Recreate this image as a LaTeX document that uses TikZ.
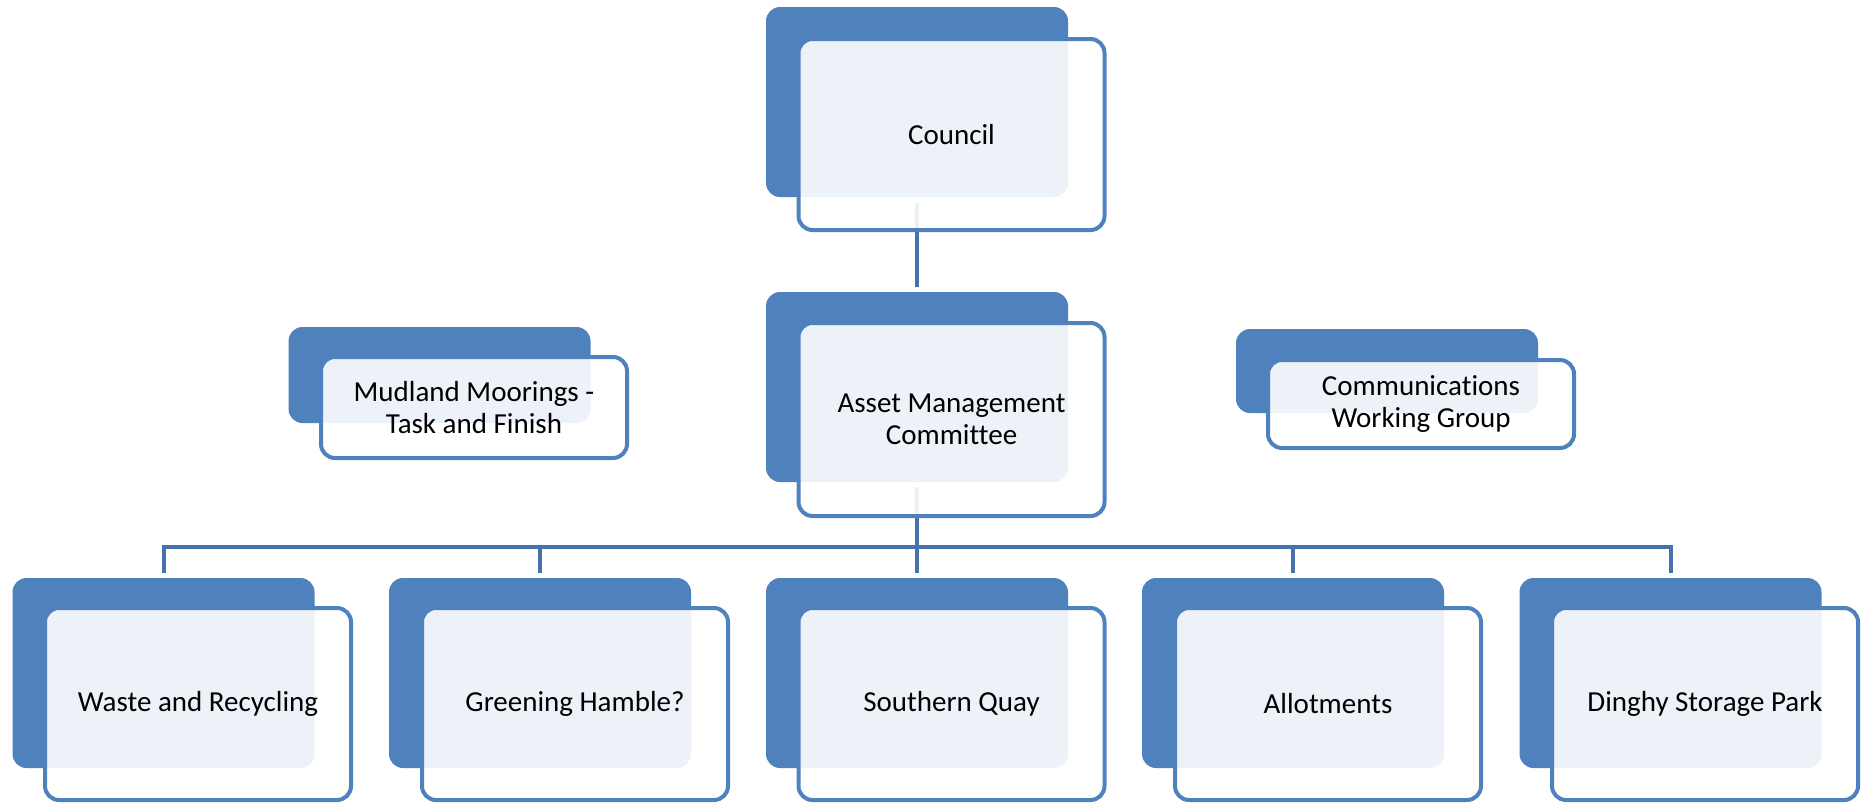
\documentclass[tikz,border=0pt]{standalone}
\usepackage{fontspec}
\setmainfont[Ligatures=CommonOff]{Carlito}
\definecolor{blueA}{HTML}{4F81BD}
\definecolor{linkc}{HTML}{4672AC}
\begin{document}
\begin{tikzpicture}[x=1pt,y=-1pt,
  backbox/.style={fill=blueA, rounded corners=14pt, inner sep=0pt, minimum width=302pt},
  frontbox/.style={draw=blueA, line width=4pt, fill=white, fill opacity=0.9, text opacity=1,
    rounded corners=14pt, minimum width=306pt, align=center, inner sep=0pt,
    font=\fontsize{29}{32}\selectfont},
  link/.style={draw=linkc, line width=4pt}]
\useasboundingbox (0,0) rectangle (1861,804);
% back boxes
\node[backbox, minimum height=190pt] (councilB) at (917,102) {};
\node[backbox, minimum height=190pt] (assetB) at (917,387) {};
\node[backbox, minimum height=96pt] (mudB) at (439.5,375) {};
\node[backbox, minimum height=84pt] (commB) at (1387,371) {};
\node[backbox, minimum height=190pt] (wasteB) at (163.5,673) {};
\node[backbox, minimum height=190pt] (greenB) at (540,673) {};
\node[backbox, minimum height=190pt] (quayB) at (917,673) {};
\node[backbox, minimum height=190pt] (allotB) at (1293,673) {};
\node[backbox, minimum height=190pt] (dinghyB) at (1670.5,673) {};
% connectors
\coordinate (bar) at (0,547);
\draw[link] ([yshift=-6pt]councilB.south) -- ([yshift=5pt]assetB.north);
\draw[link] ([yshift=-5pt]assetB.south) -- (assetB.south |- bar);
\draw[link] ([yshift=5pt]wasteB.north) -- (wasteB.north |- bar) -- (dinghyB.north |- bar) -- ([yshift=5pt]dinghyB.north);
\draw[link] ([yshift=5pt]greenB.north) -- (greenB.north |- bar);
\draw[link] ([yshift=5pt]quayB.north) -- (quayB.north |- bar);
\draw[link] ([yshift=5pt]allotB.north) -- (allotB.north |- bar);
% front boxes
\node[frontbox, minimum height=191pt] (councilF) at (951.5,134.5) {Council};
\node[frontbox, minimum height=193pt] (assetF) at (951.5,419.5) {Asset Management\\Committee};
\node[frontbox, minimum height=101pt] (mudF) at (474,407.5) {Mudland Moorings -\\Task and Finish};
\node[frontbox, minimum height=88pt] (commF) at (1421,404) {Communications\\Working Group};
\node[frontbox, minimum height=192pt] (wasteF) at (198,704) {Waste and Recycling};
\node[frontbox, minimum height=192pt] (greenF) at (575,704) {Greening Hamble?};
\node[frontbox, minimum height=192pt] (quayF) at (951.5,704) {Southern Quay};
\node[frontbox, minimum height=192pt] (allotF) at (1328,704) {Allotments};
\node[frontbox, minimum height=192pt] (dinghyF) at (1705,704) {Dinghy Storage Park};
\end{tikzpicture}
\end{document}
